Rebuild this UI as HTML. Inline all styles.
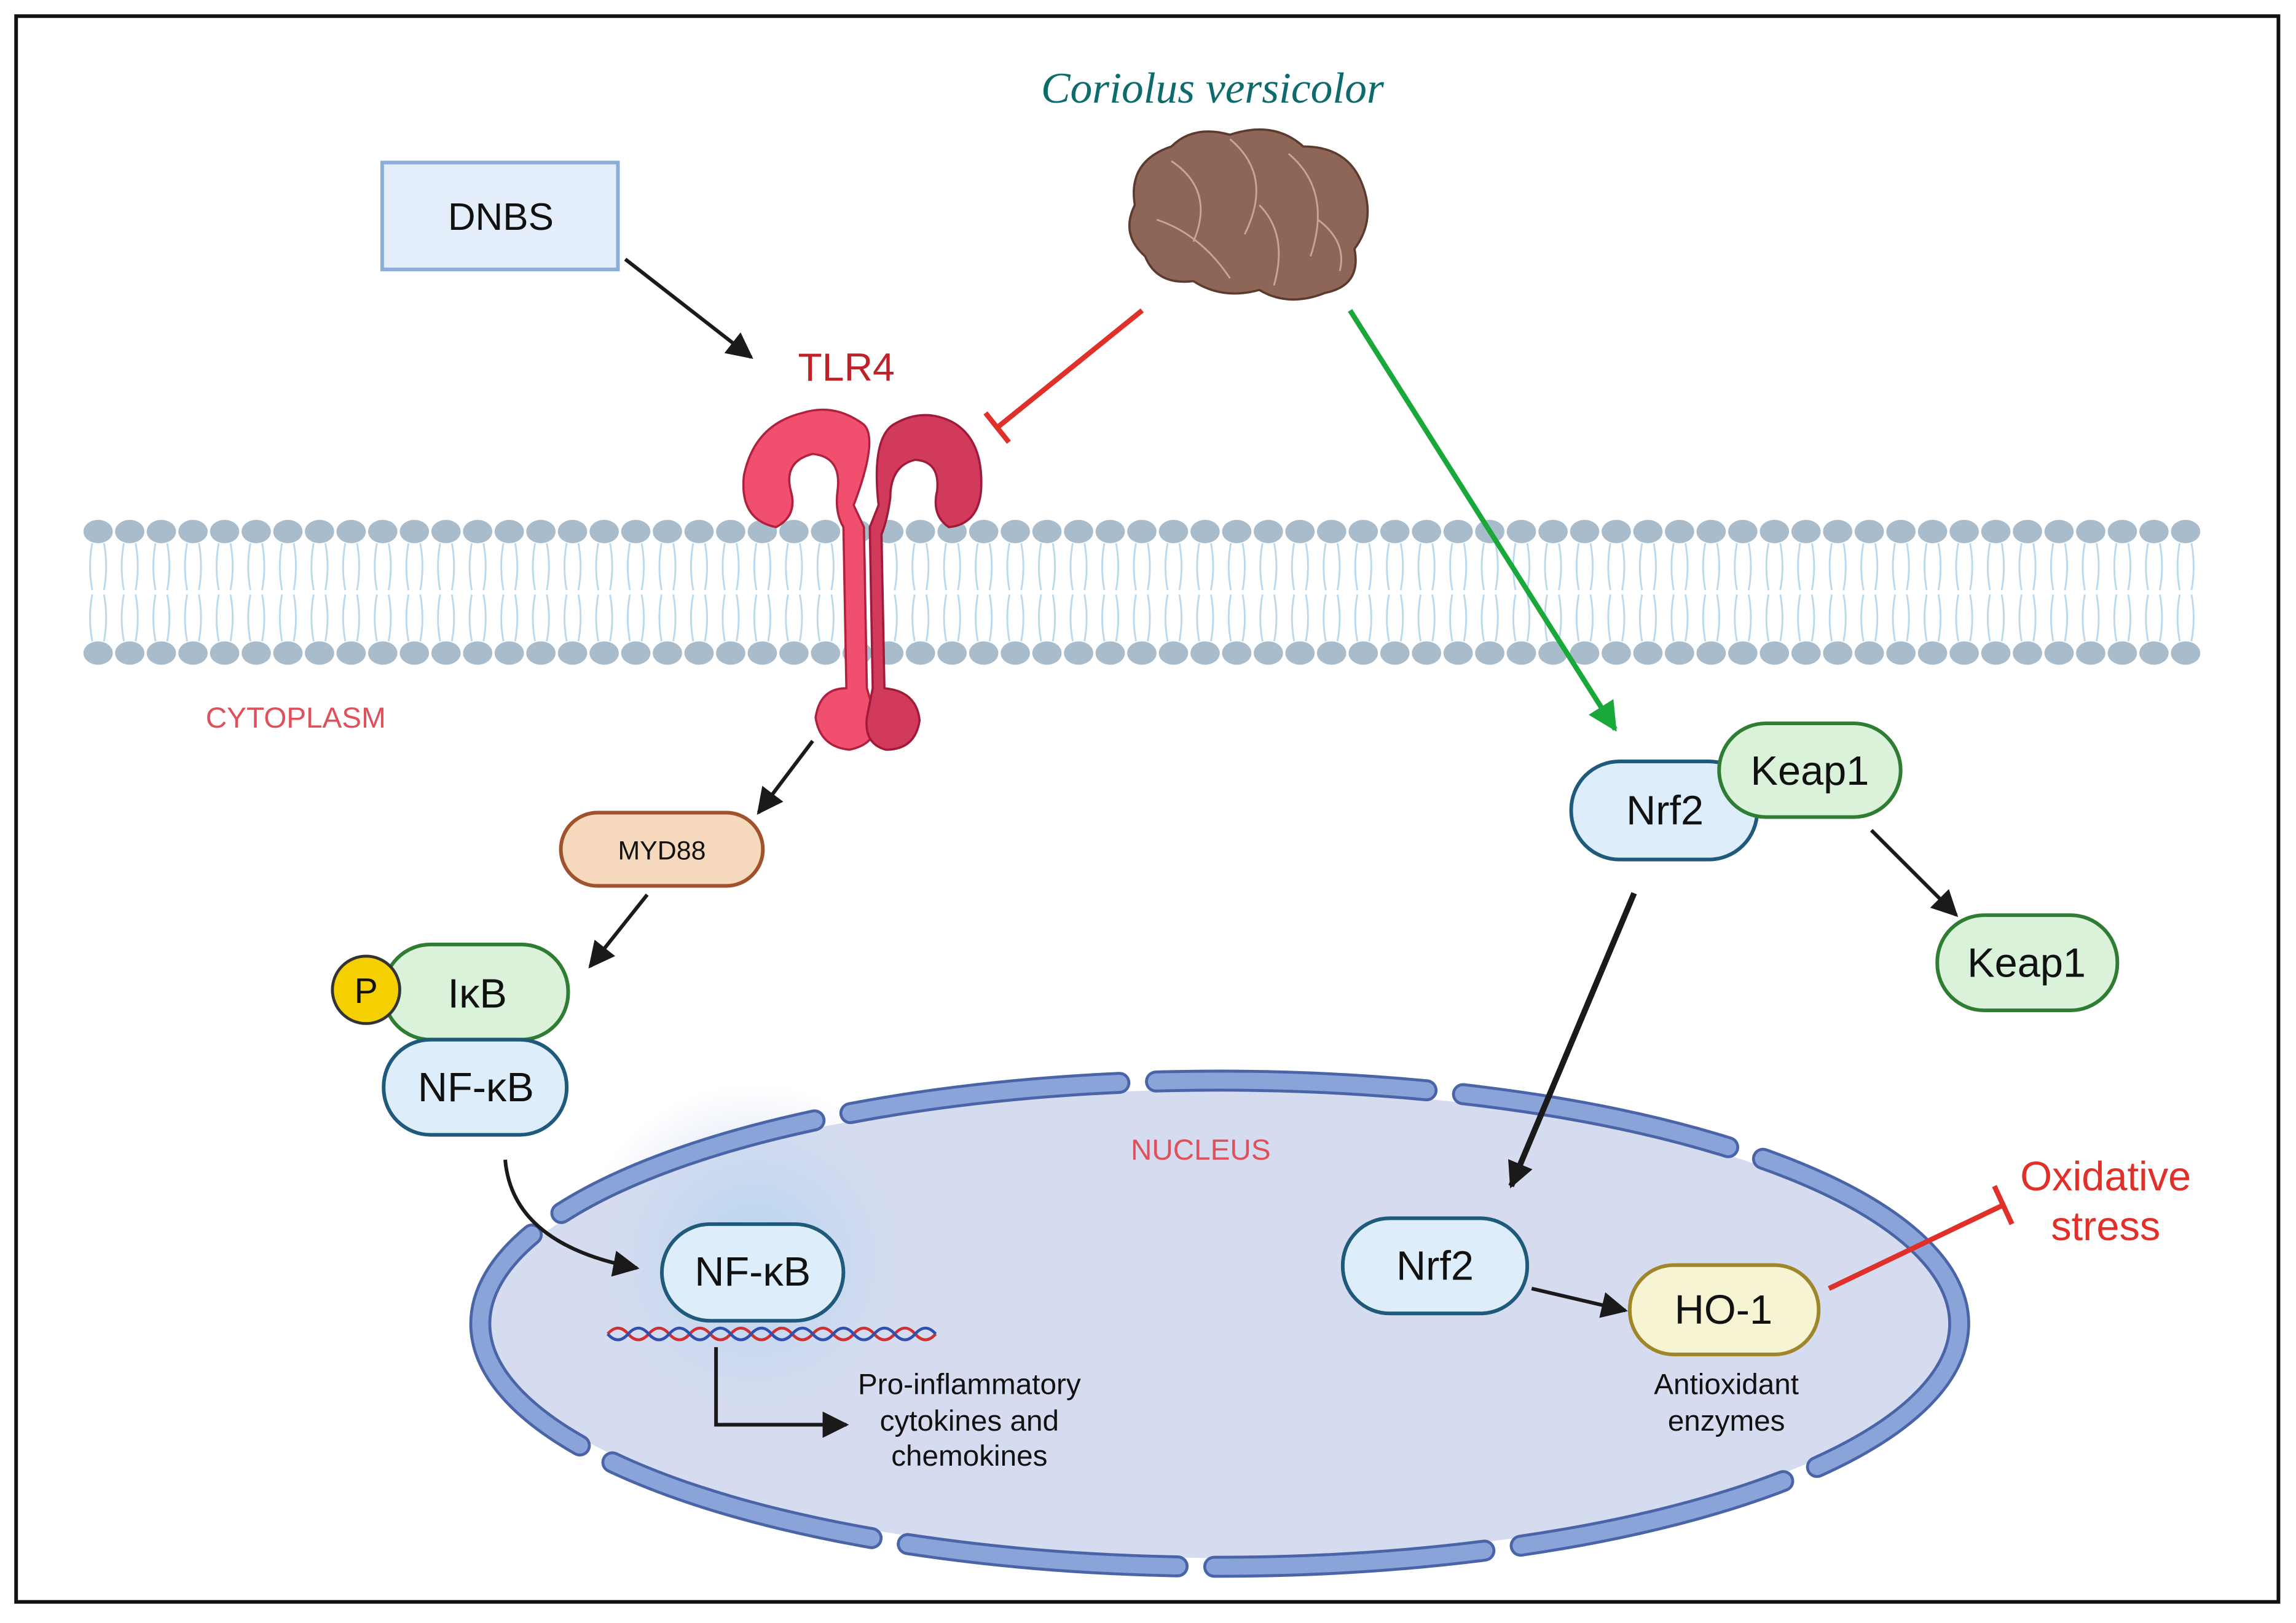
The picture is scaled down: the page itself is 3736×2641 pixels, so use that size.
<!DOCTYPE html>
<html><head><meta charset="utf-8"><style>
html,body{margin:0;padding:0;background:#fff}
svg{display:block}
text{font-family:"Liberation Sans",Arial,sans-serif}
</style></head><body>
<svg width="3736" height="2641" viewBox="0 0 1568 1108.4" xmlns="http://www.w3.org/2000/svg">
<defs>
<marker id="ab2" viewBox="0 0 10 10" markerWidth="18" markerHeight="18" refX="9" refY="5" orient="auto" markerUnits="userSpaceOnUse"><path d="M0,0 L10,5 L0,10 z" fill="#1a1a1a"/></marker>
<marker id="ag" viewBox="0 0 10 10" markerWidth="20" markerHeight="20" refX="9" refY="5" orient="auto" markerUnits="userSpaceOnUse"><path d="M0,0 L10,5 L0,10 z" fill="#1aa83a"/></marker>
<radialGradient id="glow"><stop offset="0" stop-color="#a9d3ee" stop-opacity="0.9"/><stop offset="0.6" stop-color="#c6d8f0" stop-opacity="0.5"/><stop offset="1" stop-color="#d6dcf0" stop-opacity="0"/></radialGradient>
</defs>
<rect x="11" y="11" width="1545" height="1083" fill="#fff" stroke="#111" stroke-width="2.5"/>
<text x="828" y="70" text-anchor="middle" font-size="30" font-style="italic" fill="#0e6b6b" style="font-family:'Liberation Serif',serif">Coriolus versicolor</text>
<!-- mushroom -->
<path d="M775,140 Q770,110 800,100 Q815,85 840,92 Q870,82 890,100 Q920,100 930,125 Q940,150 925,170 Q930,195 905,200 Q880,210 860,198 Q835,205 815,192 Q790,195 782,175 Q765,160 775,140 z" fill="#8d6657" stroke="#5c3a30" stroke-width="1.5"/>
<g fill="none" stroke="#c9a595" stroke-width="1.2">
<path d="M800,110 Q830,130 815,165 M840,95 Q870,120 850,160 M880,105 Q910,130 895,175 M790,150 Q820,160 840,190 M860,140 Q880,160 870,195 M900,150 Q920,165 915,185"/>
</g>
<!-- DNBS -->
<rect x="261" y="111" width="161" height="73" fill="#e3eefa" stroke="#8aaed8" stroke-width="2.5"/>
<text x="342" y="157" text-anchor="middle" font-size="26" fill="#111">DNBS</text>
<line x1="427" y1="177" x2="513" y2="244" stroke="#1a1a1a" stroke-width="2.5" marker-end="url(#ab2)"/>
<text x="578" y="260" text-anchor="middle" font-size="27" fill="#c0202a">TLR4</text>
<line x1="780" y1="212" x2="681" y2="292" stroke="#e0302a" stroke-width="3.5"/>
<line x1="673" y1="282" x2="689" y2="302" stroke="#e0302a" stroke-width="3.5"/>
<!-- membrane -->
<g id="tails" stroke="#b9d9ef" stroke-width="1.2" fill="none"></g>
<g id="hh" fill="#a9bccb"></g>
<line x1="922" y1="212" x2="1103" y2="498" stroke="#1aa83a" stroke-width="3.5" marker-end="url(#ag)"/>
<!-- TLR4 -->
<path d="M583,345 Q600,300 590,290 Q570,275 548,282 Q515,290 508,325 Q505,355 530,360 Q545,352 540,335 Q535,315 555,310 Q575,312 572,335 Q570,350 576,360 L578,470 Q560,470 557,490 Q560,510 580,512 Q600,508 598,490 L592,470 L590,360 z" fill="#f0506e" stroke="#b0203f" stroke-width="1.5"/>
<path d="M600,345 Q595,300 610,290 Q630,278 650,288 Q672,300 670,335 Q668,358 648,360 Q636,352 640,335 Q642,315 625,314 Q608,318 608,340 Q606,355 602,365 L604,470 Q626,472 628,492 Q625,512 605,512 Q590,508 592,490 L596,470 L594,360 z" fill="#d23a5c" stroke="#a01a3a" stroke-width="1.5"/>
<text x="202" y="497" text-anchor="middle" font-size="20" fill="#e0505a">CYTOPLASM</text>
<line x1="555" y1="506" x2="518" y2="555" stroke="#1a1a1a" stroke-width="2.5" marker-end="url(#ab2)"/>
<rect x="383" y="555" width="138" height="50" rx="25" fill="#f6d9bd" stroke="#a0522d" stroke-width="2.5"/>
<text x="452" y="587" text-anchor="middle" font-size="18" fill="#111">MYD88</text>
<line x1="442" y1="611" x2="403" y2="660" stroke="#1a1a1a" stroke-width="2.5" marker-end="url(#ab2)"/>
<rect x="262" y="645" width="126" height="65" rx="32" fill="#d9f2d9" stroke="#2e7d32" stroke-width="2.5"/>
<text x="326" y="688" text-anchor="middle" font-size="28" fill="#111">IκB</text>
<circle cx="250" cy="676" r="23" fill="#f5d000" stroke="#333" stroke-width="2"/>
<text x="250" y="685" text-anchor="middle" font-size="24" fill="#111">P</text>
<rect x="262" y="710" width="125" height="65" rx="32" fill="#ddeefa" stroke="#1f5a7a" stroke-width="2.5"/>
<text x="325" y="752" text-anchor="middle" font-size="28" fill="#111">NF-κB</text>
<!-- nucleus -->
<ellipse cx="833" cy="904" rx="500" ry="160" fill="#d6dcf0"/>
<circle cx="515" cy="860" r="120" fill="url(#glow)"/>
<ellipse cx="833" cy="904" rx="505" ry="166" fill="none" stroke="#4a64a8" stroke-width="15" stroke-dasharray="185 25" stroke-dashoffset="40" stroke-linecap="round"/>
<ellipse cx="833" cy="904" rx="505" ry="166" fill="none" stroke="#8aa4da" stroke-width="11" stroke-dasharray="185 25" stroke-dashoffset="40" stroke-linecap="round"/>
<text x="820" y="792" text-anchor="middle" font-size="20" fill="#e0505a">NUCLEUS</text>
<path d="M345,792 Q350,850 435,866" fill="none" stroke="#1a1a1a" stroke-width="2.5" marker-end="url(#ab2)"/>
<rect x="452" y="836" width="124" height="66" rx="33" fill="#ddeefa" stroke="#1f5a7a" stroke-width="2.5"/>
<text x="514" y="878" text-anchor="middle" font-size="28" fill="#111">NF-κB</text>
<path d="M415,911 q7,-8 14,0 t14,0 t14,0 t14,0 t14,0 t14,0 t14,0 t14,0 t14,0 t14,0 t14,0 t14,0 t14,0 t14,0 t14,0 t14,0" fill="none" stroke="#d03030" stroke-width="2"/>
<path d="M415,911 q7,8 14,0 t14,0 t14,0 t14,0 t14,0 t14,0 t14,0 t14,0 t14,0 t14,0 t14,0 t14,0 t14,0 t14,0 t14,0 t14,0" fill="none" stroke="#3050b0" stroke-width="2"/>
<polyline points="489,920 489,973 578,973" fill="none" stroke="#1a1a1a" stroke-width="2.5" marker-end="url(#ab2)"/>
<g font-size="20" fill="#111" text-anchor="middle">
<text x="662" y="952">Pro-inflammatory</text><text x="662" y="977">cytokines and</text><text x="662" y="1001">chemokines</text>
<text x="1179" y="952">Antioxidant</text><text x="1179" y="977">enzymes</text>
</g>
<!-- Nrf2 branch -->
<rect x="1073" y="520" width="127" height="67" rx="33" fill="#ddeefa" stroke="#1f5a7a" stroke-width="2.5"/>
<text x="1137" y="563" text-anchor="middle" font-size="28" fill="#111">Nrf2</text>
<rect x="1174" y="494" width="124" height="64" rx="32" fill="#d9f2d9" stroke="#2e7d32" stroke-width="2.5"/>
<text x="1236" y="536" text-anchor="middle" font-size="28" fill="#111">Keap1</text>
<line x1="1278" y1="567" x2="1336" y2="625" stroke="#1a1a1a" stroke-width="2.5" marker-end="url(#ab2)"/>
<rect x="1323" y="625" width="123" height="65" rx="32" fill="#d9f2d9" stroke="#2e7d32" stroke-width="2.5"/>
<text x="1384" y="667" text-anchor="middle" font-size="28" fill="#111">Keap1</text>
<line x1="1116" y1="610" x2="1032" y2="810" stroke="#1a1a1a" stroke-width="4" marker-end="url(#ab2)"/>
<rect x="917" y="832" width="126" height="65" rx="32" fill="#ddeefa" stroke="#1f5a7a" stroke-width="2.5"/>
<text x="980" y="874" text-anchor="middle" font-size="28" fill="#111">Nrf2</text>
<line x1="1046" y1="880" x2="1110" y2="895" stroke="#1a1a1a" stroke-width="2.5" marker-end="url(#ab2)"/>
<rect x="1113" y="864" width="129" height="61" rx="30" fill="#f7f4d4" stroke="#a0862a" stroke-width="2.5"/>
<text x="1177" y="904" text-anchor="middle" font-size="28" fill="#111">HO-1</text>
<line x1="1249" y1="880" x2="1368" y2="823" stroke="#e0302a" stroke-width="3.5"/>
<line x1="1362" y1="810" x2="1374" y2="836" stroke="#e0302a" stroke-width="3.5"/>
<text x="1438" y="813" text-anchor="middle" font-size="28" fill="#e0302a">Oxidative</text>
<text x="1438" y="847" text-anchor="middle" font-size="28" fill="#e0302a">stress</text>
</svg>
<script>
var ns='http://www.w3.org/2000/svg';
var g=document.getElementById('hh'),t=document.getElementById('tails');
for(var x=67;x<=1505;x+=21.6){
[363,446].forEach(function(y){var e=document.createElementNS(ns,'ellipse');e.setAttribute('cx',x);e.setAttribute('cy',y);e.setAttribute('rx',10);e.setAttribute('ry',8);g.appendChild(e);});
var p=document.createElementNS(ns,'path');
var a=x-4,b=x+4;
p.setAttribute('d','M'+a+',371 Q'+(a-3)+',387 '+a+',403 M'+b+',371 Q'+(b+3)+',387 '+b+',403 M'+a+',406 Q'+(a-3)+',422 '+a+',438 M'+b+',406 Q'+(b+3)+',422 '+b+',438');
t.appendChild(p);}
</script>
</body></html>
